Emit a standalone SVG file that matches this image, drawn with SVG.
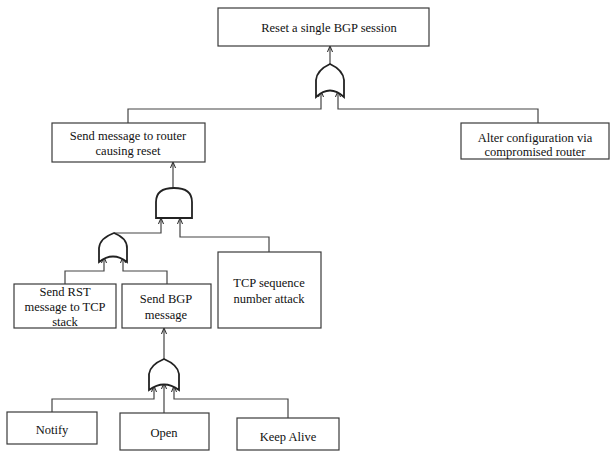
<svg xmlns="http://www.w3.org/2000/svg" width="610" height="451" viewBox="0 0 610 451">
  <style>
    .box { fill: #ffffff; stroke: #3a3a3a; stroke-width: 1.2; }
    .gate { fill: #ffffff; stroke: #222222; stroke-width: 1.8; }
    .wire { fill: none; stroke: #444444; stroke-width: 1.2; }
    .lbl { font-family: "Liberation Serif", "Times New Roman", serif; font-size: 12.5px; fill: #111111; text-anchor: middle; }
  </style>
  <defs>
    <marker id="arr" viewBox="0 0 8 8" refX="7" refY="4" markerWidth="7" markerHeight="7" orient="auto" markerUnits="userSpaceOnUse">
      <path d="M0,1 L7,4 L0,7" fill="none" stroke="#333" stroke-width="1.2"/>
    </marker>
  </defs>
  <rect width="610" height="451" fill="#ffffff"/>

  <!-- connectors -->
  <g id="connectors">
    <!-- top OR gate to root -->
    <line class="wire" x1="330" y1="65" x2="330" y2="46" marker-end="url(#arr)"/>
    <polyline class="wire" points="128,123 128,109 321,109 321,91" marker-end="url(#arr)"/>
    <polyline class="wire" points="538,123 538,109 338,109 338,91" marker-end="url(#arr)"/>
    <!-- AND gate to "Send message" -->
    <line class="wire" x1="173" y1="188" x2="173" y2="162" marker-end="url(#arr)"/>
    <polyline class="wire" points="114,233 161,233 161,218" marker-end="url(#arr)"/>
    <polyline class="wire" points="269,252 269,237 180,237 180,218" marker-end="url(#arr)"/>
    <!-- middle OR gate inputs -->
    <polyline class="wire" points="65,284 65,271 104,271 104,257" marker-end="url(#arr)"/>
    <polyline class="wire" points="167,284 167,271 123,271 123,257" marker-end="url(#arr)"/>
    <!-- bottom OR gate to "Send BGP message" -->
    <line class="wire" x1="164" y1="360" x2="164" y2="328" marker-end="url(#arr)"/>
    <polyline class="wire" points="52,412 52,399 154,399 154,386" marker-end="url(#arr)"/>
    <line class="wire" x1="164" y1="413" x2="164" y2="383" marker-end="url(#arr)"/>
    <polyline class="wire" points="288,418 288,399 174,399 174,386" marker-end="url(#arr)"/>
  </g>

  <!-- gates -->
  <g id="gate-or-top">
    <path class="gate" d="M316,97 L316,80 Q317,70 330,64 Q343,70 344,80 L344,97 Q330,84 316,97 Z"/>
  </g>
  <g id="gate-and">
    <path class="gate" d="M156,218 L156,202 Q156,188 174,188 Q192,188 192,202 L192,218 Z"/>
  </g>
  <g id="gate-or-mid">
    <path class="gate" d="M99,262 L99,248 Q100,238 114,233 Q127,238 127,248 L127,262 Q113,251 99,262 Z"/>
  </g>
  <g id="gate-or-bottom">
    <path class="gate" d="M149,390 L149,374 Q150,365 164,359 Q178,365 179,374 L179,390 Q164,379 149,390 Z"/>
  </g>

  <!-- nodes -->
  <g id="node-root">
    <rect class="box" x="218" y="8" width="211" height="38"/>
    <text class="lbl" x="329" y="32">Reset a single BGP session</text>
  </g>
  <g id="node-send-message">
    <rect class="box" x="52" y="123" width="153" height="39"/>
    <text class="lbl" x="128" y="140">Send message to router</text>
    <text class="lbl" x="128" y="155">causing reset</text>
  </g>
  <g id="node-alter-config">
    <rect class="box" x="461" y="123" width="148" height="36"/>
    <text class="lbl" x="535" y="142">Alter configuration via</text>
    <text class="lbl" x="535" y="156">compromised router</text>
  </g>
  <g id="node-send-rst">
    <rect class="box" x="14" y="284" width="102" height="44"/>
    <text class="lbl" x="65" y="296">Send RST</text>
    <text class="lbl" x="65" y="311">message to TCP</text>
    <text class="lbl" x="65" y="326">stack</text>
  </g>
  <g id="node-send-bgp">
    <rect class="box" x="122" y="284" width="89" height="44"/>
    <text class="lbl" x="166" y="303">Send BGP</text>
    <text class="lbl" x="166" y="319">message</text>
  </g>
  <g id="node-tcp-seq">
    <rect class="box" x="218" y="252" width="103" height="76"/>
    <text class="lbl" x="269" y="287">TCP sequence</text>
    <text class="lbl" x="269" y="303">number attack</text>
  </g>
  <g id="node-notify">
    <rect class="box" x="7" y="412" width="90" height="32"/>
    <text class="lbl" x="52" y="434">Notify</text>
  </g>
  <g id="node-open">
    <rect class="box" x="120" y="413" width="89" height="37"/>
    <text class="lbl" x="164" y="437">Open</text>
  </g>
  <g id="node-keep-alive">
    <rect class="box" x="237" y="418" width="102" height="32"/>
    <text class="lbl" x="288" y="441">Keep Alive</text>
  </g>
</svg>
